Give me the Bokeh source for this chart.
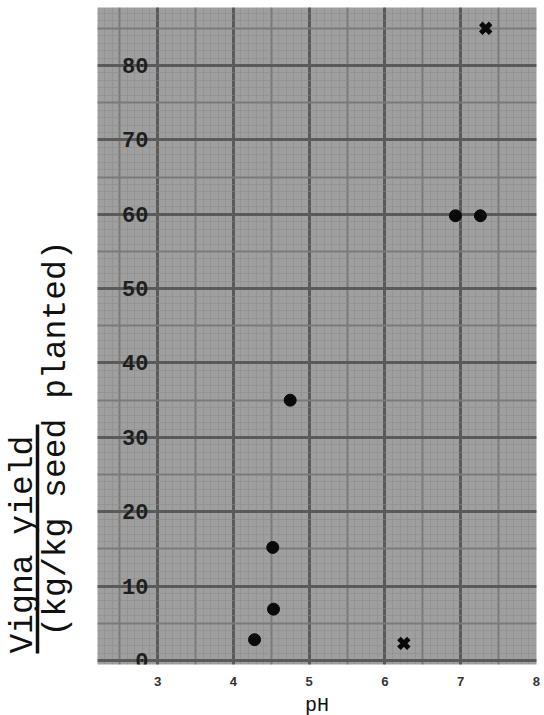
import math
from bokeh.plotting import figure
from bokeh.layouts import row
from bokeh.models import Range1d, Grid, SingleIntervalTicker, FixedTicker, ColumnDataSource
from bokeh.core.properties import value
from bokeh.embed import file_html
from bokeh.resources import INLINE

# ---- data ----
ph_circle = [4.28, 4.53, 4.52, 4.75, 6.93, 7.26]
yield_circle = [2.8, 6.9, 15.2, 35.0, 59.8, 59.8]
ph_cross = [6.25, 7.33]
yield_cross = [2.3, 85.0]
x_ticks = [3, 4, 5, 6, 7, 8]
y_ticks = [0, 10, 20, 30, 40, 50, 60, 70, 80]
y_tick_labels = ["0", "10", "20", "30", "40", "50", "60", "70", "80"]
title_line1 = "Vigna yield"
title_line2 = "(kg/kg seed planted)"
x_title = "pH"

FONT = value("Liberation Mono")
FRAME_H = 657
TOP = 7
BOTTOM = 51

# ---- left strip holding the rotated y title (1 data unit = 1 px) ----
t = figure(frame_width=97, frame_height=FRAME_H, x_range=Range1d(0, 97), y_range=Range1d(0, FRAME_H),
           toolbar_location=None, output_backend="svg",
           x_axis_type=None, y_axis_type=None,
           min_border_left=0, min_border_right=0, min_border_top=TOP, min_border_bottom=BOTTOM)
t.outline_line_color = None
t.background_fill_color = "white"
t.border_fill_color = "white"
t.text(x=[23], y=[11], text=[title_line1], angle=math.pi / 2,
       text_font=FONT, text_font_size="33px", text_color="#111111",
       text_align="left", text_baseline="alphabetic")
t.text(x=[56], y=[28], text=[title_line2], angle=math.pi / 2,
       text_font=FONT, text_font_size="33px", text_color="#111111",
       text_align="left", text_baseline="alphabetic")
t.segment(x0=[37], y0=[11], x1=[37], y1=[240], line_width=3.5, line_color="#111111")

# ---- main graph-paper plot ----
p = figure(frame_width=439, frame_height=FRAME_H, x_range=Range1d(2.208, 8.0), y_range=Range1d(-0.54, 87.80),
           toolbar_location=None, output_backend="svg",
           min_border_left=0, min_border_right=8, min_border_top=TOP, min_border_bottom=BOTTOM)
p.background_fill_color = "#9f9f9f"
p.border_fill_color = "white"
p.outline_line_color = None
p.grid.visible = False
p.yaxis.visible = False

for dim, minor, medium, major in [(0, 0.1, 0.5, 1.0), (1, 1, 5, 10)]:
    p.add_layout(Grid(dimension=dim, ticker=SingleIntervalTicker(interval=minor),
                      grid_line_color="#8a8a8a", grid_line_width=1, grid_line_alpha=0.5))
    p.add_layout(Grid(dimension=dim, ticker=SingleIntervalTicker(interval=medium),
                      grid_line_color="#7a7a7a", grid_line_width=2))
    p.add_layout(Grid(dimension=dim, ticker=SingleIntervalTicker(interval=major),
                      grid_line_color="#5a5a5a", grid_line_width=3))

xa = p.xaxis[0]
xa.ticker = FixedTicker(ticks=x_ticks)
xa.axis_line_color = None
xa.major_tick_line_color = None
xa.minor_tick_line_color = None
xa.major_label_standoff = 6
xa.major_label_text_font = "Liberation Mono"
xa.major_label_text_font_size = "13px"
xa.major_label_text_font_style = "bold"
xa.major_label_text_color = "#333333"
xa.axis_label = x_title
xa.axis_label_text_font = "Liberation Mono"
xa.axis_label_text_font_size = "20px"
xa.axis_label_text_font_style = "normal"
xa.axis_label_text_color = "#111111"
xa.axis_label_standoff = 5

lab = ColumnDataSource(dict(y=y_ticks, text=y_tick_labels))
p.text(x=2.88, y="y", text="text", source=lab, text_font=FONT, text_font_size="22px",
       text_font_style="bold", text_color="#1e1e1e", text_align="right", text_baseline="middle")

p.scatter(ph_circle, yield_circle, marker="circle", size=12, fill_color="#0a0a0a", line_color="#0a0a0a")
p.scatter(ph_cross, yield_cross, marker="x", size=14, line_width=5, line_color="#0a0a0a")

layout = row(t, p)
open("out.html", "w").write(file_html(layout, INLINE))
